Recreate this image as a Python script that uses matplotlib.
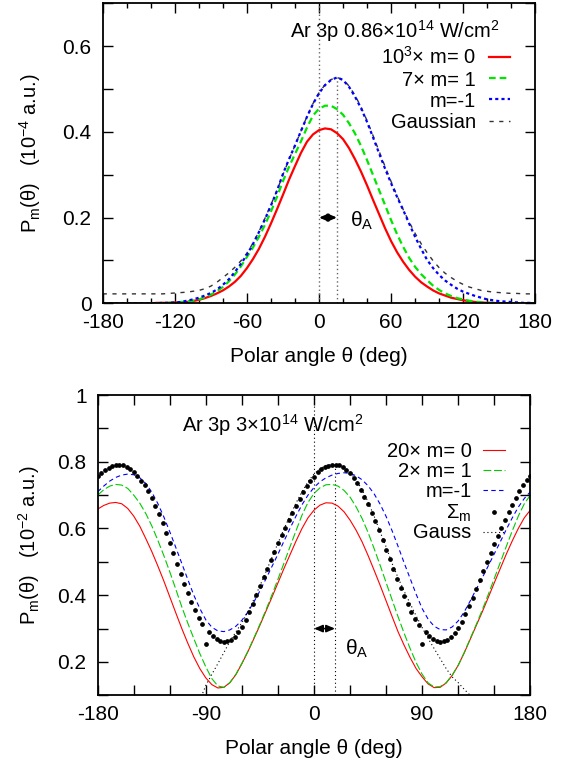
import numpy as np
import matplotlib
matplotlib.use('Agg')
import matplotlib.pyplot as plt
from matplotlib.ticker import MultipleLocator

plt.rcParams['font.family'] = ['Liberation Sans', 'DejaVu Sans']
plt.rcParams['font.size'] = 14.5
plt.rcParams['mathtext.fontset'] = 'custom'
plt.rcParams['mathtext.rm'] = 'Liberation Sans'
plt.rcParams['mathtext.it'] = 'Liberation Sans:italic'
plt.rcParams['axes.unicode_minus'] = False

# ---------------- top panel: 0.86e14 W/cm^2 ----------------
theta_top = list(range(-180, 181, 5))
red_top = [0, 0, 0, 0, 0, 0, 0, 0, 0,
           0.001, 0.001, 0.001, 0.002, 0.002, 0.003, 0.005, 0.008, 0.012,
           0.017, 0.023, 0.030, 0.039, 0.050, 0.064, 0.082, 0.103, 0.127,
           0.155, 0.186, 0.219, 0.253, 0.288, 0.320, 0.351, 0.377, 0.394,
           0.404, 0.408, 0.406, 0.397, 0.383, 0.362, 0.336, 0.307, 0.275,
           0.241, 0.208, 0.175, 0.145, 0.119, 0.097, 0.078, 0.062, 0.049,
           0.039, 0.030, 0.023, 0.018, 0.013, 0.010, 0.007, 0.005, 0.003,
           0.002, 0.001, 0.001, 0, 0, 0, 0, 0, 0,
           0]
green_top = [0, 0, 0, 0, 0, 0, 0, 0, 0,
             0.000, 0.001, 0.001, 0.002, 0.003, 0.004, 0.006, 0.009, 0.014,
             0.020, 0.028, 0.038, 0.051, 0.067, 0.086, 0.108, 0.130, 0.155,
             0.183, 0.214, 0.248, 0.285, 0.318, 0.348, 0.378, 0.410, 0.438,
             0.454, 0.461, 0.461, 0.453, 0.440, 0.420, 0.396, 0.367, 0.334,
             0.299, 0.264, 0.229, 0.194, 0.161, 0.132, 0.106, 0.085, 0.068,
             0.054, 0.041, 0.031, 0.023, 0.017, 0.012, 0.009, 0.006, 0.004,
             0.002, 0.001, 0.001, 0, 0, 0, 0, 0, 0,
             0]
blue_top = [0, 0, 0, 0, 0, 0, 0, 0, 0,
            0.000, 0.001, 0.001, 0.002, 0.003, 0.006, 0.009, 0.013, 0.018,
            0.024, 0.032, 0.043, 0.056, 0.073, 0.092, 0.113, 0.138, 0.166,
            0.196, 0.228, 0.262, 0.302, 0.336, 0.368, 0.402, 0.435, 0.465,
            0.490, 0.509, 0.521, 0.527, 0.521, 0.505, 0.482, 0.455, 0.423,
            0.387, 0.350, 0.314, 0.280, 0.248, 0.218, 0.186, 0.155, 0.127,
            0.101, 0.082, 0.066, 0.053, 0.043, 0.034, 0.027, 0.022, 0.017,
            0.013, 0.009, 0.007, 0.005, 0.004, 0.003, 0.002, 0.001, 0.001,
            0]
gauss_top = [0.022, 0.022, 0.022, 0.022, 0.022, 0.022, 0.022, 0.022, 0.022,
             0.022, 0.022, 0.023, 0.024, 0.025, 0.026, 0.028, 0.030, 0.034,
             0.040, 0.049, 0.060, 0.071, 0.084, 0.099, 0.117, 0.140, 0.167,
             0.198, 0.230, 0.263, 0.300, 0.335, 0.368, 0.402, 0.436, 0.466,
             0.491, 0.510, 0.522, 0.527, 0.522, 0.507, 0.485, 0.458, 0.426,
             0.391, 0.355, 0.319, 0.284, 0.251, 0.219, 0.190, 0.163, 0.139,
             0.118, 0.099, 0.083, 0.070, 0.060, 0.051, 0.044, 0.038, 0.034,
             0.030, 0.028, 0.026, 0.025, 0.024, 0.023, 0.023, 0.022, 0.022,
             0.022]
theta_a_top = 15
labels_top = [r'10$^{\mathregular{3}}$× m= 0', '7× m= 1', 'm=-1', 'Gaussian']
title_top = r'Ar 3p 0.86×10$^{\mathregular{14}}$ W/cm$^{\mathregular{2}}$'
xticks_top = [-180, -120, -60, 0, 60, 120, 180]
yticks_top = [0, 0.2, 0.4, 0.6]
yticklabels_top = ['0', '0.2', '0.4', '0.6']
ylabel_top = r'P$_{\mathregular{m}}$(θ)   (10$^{\mathregular{-4}}$ a.u.)'

# ---------------- bottom panel: 3e14 W/cm^2 ----------------
theta_bot = list(range(-180, 181, 5))
red_bot = [0.658, 0.669, 0.676, 0.678, 0.674, 0.660, 0.637, 0.607, 0.570,
           0.531, 0.488, 0.443, 0.395, 0.347, 0.300, 0.256, 0.215, 0.180,
           0.152, 0.132, 0.122, 0.124, 0.138, 0.162, 0.195, 0.231, 0.270,
           0.310, 0.352, 0.394, 0.437, 0.480, 0.521, 0.562, 0.600, 0.632,
           0.655, 0.670, 0.677, 0.676, 0.667, 0.650, 0.625, 0.595, 0.560,
           0.519, 0.475, 0.430, 0.383, 0.336, 0.290, 0.250, 0.213, 0.180,
           0.155, 0.134, 0.123, 0.124, 0.137, 0.160, 0.190, 0.227, 0.268,
           0.309, 0.350, 0.393, 0.437, 0.480, 0.523, 0.563, 0.600, 0.632,
           0.655]
green_bot = [0.700, 0.716, 0.727, 0.732, 0.730, 0.720, 0.700, 0.676, 0.645,
             0.608, 0.565, 0.519, 0.470, 0.418, 0.365, 0.316, 0.270, 0.225,
             0.185, 0.150, 0.128, 0.124, 0.138, 0.163, 0.196, 0.232, 0.272,
             0.313, 0.356, 0.401, 0.448, 0.496, 0.545, 0.593, 0.640, 0.678,
             0.705, 0.722, 0.731, 0.732, 0.727, 0.714, 0.694, 0.665, 0.630,
             0.588, 0.540, 0.490, 0.438, 0.386, 0.335, 0.286, 0.240, 0.198,
             0.163, 0.137, 0.125, 0.126, 0.138, 0.160, 0.190, 0.228, 0.270,
             0.312, 0.356, 0.402, 0.450, 0.498, 0.546, 0.593, 0.637, 0.674,
             0.700]
blue_bot = [0.710, 0.727, 0.742, 0.753, 0.760, 0.763, 0.761, 0.752, 0.735,
            0.709, 0.675, 0.635, 0.590, 0.543, 0.495, 0.447, 0.400, 0.360,
            0.326, 0.304, 0.293, 0.291, 0.296, 0.307, 0.325, 0.350, 0.380,
            0.413, 0.449, 0.486, 0.523, 0.562, 0.600, 0.637, 0.671, 0.700,
            0.723, 0.740, 0.752, 0.760, 0.765, 0.767, 0.765, 0.758, 0.746,
            0.728, 0.704, 0.673, 0.636, 0.593, 0.546, 0.497, 0.450, 0.403,
            0.360, 0.328, 0.307, 0.297, 0.296, 0.305, 0.323, 0.350, 0.383,
            0.418, 0.452, 0.488, 0.524, 0.560, 0.597, 0.632, 0.664, 0.690,
            0.710]
theta_sum = list(range(-180, 181, 3))
sum_bot = [0.758, 0.767, 0.775, 0.782, 0.787, 0.790, 0.791, 0.789, 0.785, 0.778,
           0.769, 0.757, 0.743, 0.729, 0.712, 0.692, 0.668, 0.642, 0.615, 0.586,
           0.556, 0.526, 0.495, 0.465, 0.435, 0.407, 0.380, 0.355, 0.333, 0.313,
           0.254, 0.290, 0.279, 0.270, 0.264, 0.261, 0.262, 0.267, 0.276, 0.289,
           0.306, 0.326, 0.349, 0.374, 0.400, 0.427, 0.454, 0.480, 0.506, 0.531,
           0.555, 0.579, 0.602, 0.625, 0.647, 0.668, 0.688, 0.708, 0.727, 0.743,
           0.755, 0.768, 0.777, 0.784, 0.788, 0.790, 0.791, 0.789, 0.784, 0.776,
           0.765, 0.751, 0.735, 0.716, 0.695, 0.672, 0.647, 0.621, 0.594, 0.566,
           0.537, 0.508, 0.479, 0.450, 0.423, 0.397, 0.373, 0.351, 0.330, 0.311,
           0.254, 0.290, 0.279, 0.270, 0.264, 0.261, 0.262, 0.267, 0.275, 0.287,
           0.302, 0.321, 0.343, 0.367, 0.393, 0.420, 0.447, 0.474, 0.501, 0.527,
           0.553, 0.578, 0.602, 0.625, 0.648, 0.670, 0.691, 0.711, 0.729, 0.745,
           0.758]
theta_gauss = list(range(-95, 136, 5))
gauss_bot = [0.085, 0.130, 0.163, 0.195, 0.228, 0.262, 0.290, 0.318,
             0.350, 0.388, 0.428, 0.470, 0.513, 0.556, 0.598, 0.638,
             0.676, 0.710, 0.740, 0.763, 0.779, 0.789, 0.792, 0.791,
             0.783, 0.768, 0.746, 0.716, 0.680, 0.637, 0.590, 0.545,
             0.495, 0.452, 0.412, 0.375, 0.338, 0.303, 0.270, 0.240,
             0.210, 0.180, 0.155, 0.138, 0.118, 0.100, 0.082]
theta_a_bot = 17.5
labels_bot = ['20× m= 0', '2× m= 1', 'm=-1', r'Σ$_{\mathregular{m}}$', 'Gauss']
title_bot = r'Ar 3p 3×10$^{\mathregular{14}}$ W/cm$^{\mathregular{2}}$'
xticks_bot = [-180, -90, 0, 90, 180]
yticks_bot = [0.2, 0.4, 0.6, 0.8, 1.0]
yticklabels_bot = ['0.2', '0.4', '0.6', '0.8', '1']
ylabel_bot = r'P$_{\mathregular{m}}$(θ)   (10$^{\mathregular{-2}}$ a.u.)'
xlabel = 'Polar angle θ (deg)'


def frame(ax):
    for s in ax.spines.values():
        s.set_linewidth(1.3)
    ax.tick_params(which='both', direction='in', top=True, right=True,
                   width=1.0, labelsize=15)
    ax.tick_params(axis='x', which='both', pad=7)
    ax.tick_params(axis='y', which='both', pad=8)
    ax.set_xlabel(xlabel, labelpad=11, fontsize=15)


def key(ax, labels, styles, xt, xl, ys, dy):
    # gnuplot-like key: right-aligned text followed by a sample
    for lab, st, y in zip(labels, styles, ys):
        ax.text(xt, y - dy, lab, transform=ax.transAxes, ha='right', va='baseline')
        if st.get('marker'):
            ax.plot([(xl[0] + xl[1]) / 2], [y], transform=ax.transAxes,
                    clip_on=False, **st)
        else:
            ax.plot(xl, [y, y], transform=ax.transAxes, clip_on=False, **st)


fig = plt.figure(figsize=(5.67, 7.63), dpi=100)

# ---------------- top ----------------
ax1 = fig.add_axes([0.1811, 0.6025, 0.7630, 0.3932])
st_red = dict(color='#ff0000', lw=1.6)
st_green = dict(color='#00e600', lw=1.6, ls=(0, (3, 1.8)))
st_blue = dict(color='#0000ff', lw=1.6, ls=(0, (1.4, 1.4)))
st_gauss = dict(color='#333333', lw=1.0, ls=(0, (3, 4)))

ax1.axvline(0, color='#666666', lw=1.0, ls=(0, (1, 2)))
ax1.vlines(theta_a_top, 0, max(blue_top), color='#666666', lw=1.0, ls=(0, (1, 2)))
ax1.plot(theta_top, gauss_top, **st_gauss)
ax1.plot(theta_top, red_top, **st_red)
ax1.plot(theta_top, green_top, **st_green)
ax1.plot(theta_top, blue_top, **st_blue)
ax1.annotate('', xy=(0, 0.2), xytext=(theta_a_top, 0.2),
             arrowprops=dict(arrowstyle='<|-|>,head_length=0.35,head_width=0.15',
                             color='k', lw=1.5, shrinkA=0, shrinkB=0))
ax1.text(26, 0.178, r'θ$_{\mathregular{A}}$', ha='left', va='baseline', fontsize=15)

ax1.set_xlim(-180, 180)
ax1.set_ylim(0, 0.7)
ax1.set_xticks(xticks_top, [str(t) for t in xticks_top])
ax1.xaxis.set_minor_locator(MultipleLocator(20))
ax1.set_yticks(yticks_top, yticklabels_top)
ax1.yaxis.set_minor_locator(MultipleLocator(0.1))
ax1.tick_params(axis='x', which='major', length=7)
ax1.tick_params(axis='x', which='minor', length=3.5)
ax1.tick_params(axis='y', which='both', length=7)
frame(ax1)
ax1.set_ylabel(ylabel_top)
ax1.yaxis.set_label_coords(-0.138, 0.5)

ax1.text(0.918, 0.885, title_top, transform=ax1.transAxes, ha='right', va='baseline')
key(ax1, labels_top, [st_red, st_green, st_blue, st_gauss],
    0.863, [0.893, 0.9415], [0.822, 0.750, 0.680, 0.609], 0.025)

# ---------------- bottom ----------------
ax2 = fig.add_axes([0.1723, 0.0887, 0.7630, 0.3936])
sb_red = dict(color='#ff0000', lw=0.8)
sb_green = dict(color='#00cc00', lw=0.8, ls=(0, (7, 2.5)))
sb_blue = dict(color='#0000ff', lw=0.8, ls=(0, (4, 3)))
sb_sum = dict(color='k', ls='none', marker='o', ms=2.4)
sb_gauss = dict(color='k', lw=0.8, ls=(0, (1, 2.5)))

ax2.axvline(0, color='k', lw=0.8, ls=(0, (1, 2.5)))
ax2.vlines(theta_a_bot, 0.1, max(sum_bot), color='k', lw=0.8, ls=(0, (1, 2.5)))
ax2.plot(theta_bot, red_bot, **sb_red)
ax2.plot(theta_bot, green_bot, **sb_green)
ax2.plot(theta_bot, blue_bot, **sb_blue)
ax2.plot(theta_gauss, gauss_bot, **sb_gauss)
ax2.plot(theta_sum, sum_bot, **sb_sum)
ax2.annotate('', xy=(0, 0.3), xytext=(theta_a_bot, 0.3),
             arrowprops=dict(arrowstyle='<|-|>,head_length=0.35,head_width=0.15',
                             color='k', lw=1.2, shrinkA=0, shrinkB=0))
ax2.text(26, 0.222, r'θ$_{\mathregular{A}}$', ha='left', va='baseline', fontsize=15)

ax2.set_xlim(-180, 180)
ax2.set_ylim(0.1, 1.0)
ax2.set_xticks(xticks_bot, [str(t) for t in xticks_bot])
ax2.xaxis.set_minor_locator(MultipleLocator(30))
ax2.set_yticks(yticks_bot, yticklabels_bot)
ax2.yaxis.set_minor_locator(MultipleLocator(0.1))
ax2.tick_params(which='both', length=7)
frame(ax2)
ax2.set_ylabel(ylabel_bot)
ax2.yaxis.set_label_coords(-0.129, 0.5)

ax2.text(0.614, 0.878, title_bot, transform=ax2.transAxes, ha='right', va='baseline')
key(ax2, labels_bot, [sb_red, sb_green, sb_blue, sb_sum, sb_gauss],
    0.8645, [0.891, 0.9415], [0.817, 0.750, 0.684, 0.611, 0.545], 0.022)

fig.savefig('out.png', dpi=100)
